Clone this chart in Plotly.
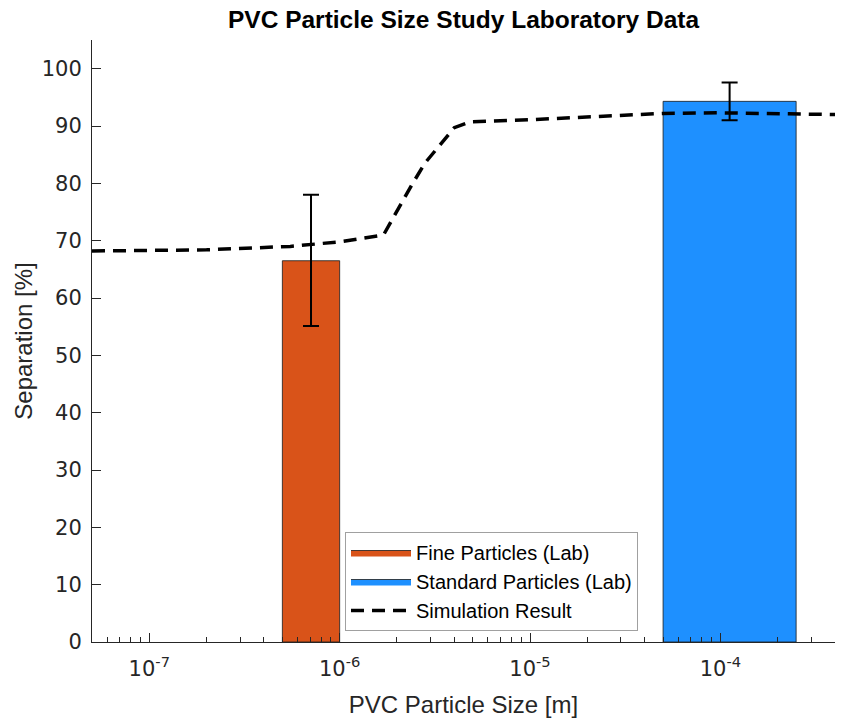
import numpy as np
import plotly.graph_objects as go

# ---------------- data ----------------
bar_names = ["Fine Particles (Lab)", "Standard Particles (Lab)"]
bar_left = [5e-7, 5e-5]
bar_right = [1e-6, 2.5e-4]
bar_height = [66.5, 94.3]
err_plus = [11.5, 3.3]
err_minus = [11.4, 3.3]
bar_colors = ["#D95319", "#1E90FF"]

sim_x = [5e-8, 2e-7, 5.5e-7, 1e-6, 1.7e-6, 1.95e-6, 2.4e-6, 2.8e-6, 3.4e-6,
         4.0e-6, 4.8e-6, 1e-5, 5e-5, 1e-4, 4e-4]
sim_y = [68.2, 68.4, 69.0, 69.8, 71.0, 74.6, 79.8, 83.5, 87.0,
         89.7, 90.7, 91.1, 92.2, 92.3, 92.0]

x_range = [5e-8, 4e-4]
y_range = [0, 105]
major_x = [1e-7, 1e-6, 1e-5, 1e-4]
major_x_labels = ["10<sup>-7</sup>", "10<sup>-6</sup>", "10<sup>-5</sup>", "10<sup>-4</sup>"]
y_ticks = list(range(0, 101, 10))

# ---------------- figure ----------------
fig = go.Figure()

for name, l, r, h, c in zip(bar_names, bar_left, bar_right, bar_height, bar_colors):
    fig.add_trace(go.Scatter(
        x=[l, r, r, l, l], y=[0, 0, h, h, 0],
        mode="lines", fill="toself", fillcolor=c,
        line=dict(color="#1a1a1a", width=0.8),
        name=name, hoverinfo="skip"))

centers = [np.sqrt(l * r) for l, r in zip(bar_left, bar_right)]
fig.add_trace(go.Scatter(
    x=centers, y=bar_height, mode="markers",
    marker=dict(size=1, color="rgba(0,0,0,0)"),
    error_y=dict(type="data", array=err_plus, arrayminus=err_minus,
                 color="black", thickness=2, width=8, symmetric=False),
    showlegend=False, hoverinfo="skip"))

fig.add_trace(go.Scatter(
    x=sim_x, y=sim_y, mode="lines", name="Simulation Result",
    line=dict(color="black", width=3.5, dash="13px,8px")))

minor_x = []
for e in range(-8, -3):
    for m in range(2, 10):
        v = m * 10.0 ** e
        if x_range[0] <= v <= x_range[1]:
            minor_x.append(v)

axis_col = "#262626"
tick_font = dict(family="DejaVu Sans, sans-serif", size=21, color=axis_col)
lab_font = dict(family="Liberation Sans, Arial, Helvetica, sans-serif", size=24, color=axis_col)
fig.update_layout(
    width=845, height=720,
    margin=dict(l=92, r=10, t=40, b=78),
    paper_bgcolor="white", plot_bgcolor="white",
    font=dict(family="Liberation Sans, Arial, Helvetica, sans-serif", size=19, color=axis_col),
    title=dict(text="<b>PVC Particle Size Study Laboratory Data</b>",
               x=0.5, xref="paper", xanchor="center", y=1 - 19 / 720, yref="container", yanchor="middle",
               font=dict(family="Liberation Sans, Arial, sans-serif", size=24.5, color="black")),
    xaxis=dict(type="log", range=[np.log10(x_range[0]), np.log10(x_range[1])],
               tickvals=major_x, ticktext=major_x_labels,
               ticks="inside", ticklen=9, tickwidth=1, tickcolor=axis_col,
               ticklabelstandoff=8, automargin=False,
               minor=dict(tickvals=minor_x, ticks="inside", ticklen=5, tickcolor=axis_col, showgrid=False),
               showline=True, linecolor=axis_col, linewidth=1, mirror=False,
               showgrid=False, zeroline=False,
               title=dict(text="PVC Particle Size [m]", standoff=15, font=lab_font),
               tickfont=tick_font),
    yaxis=dict(range=y_range, tickvals=y_ticks,
               ticks="inside", ticklen=9, tickwidth=1, tickcolor=axis_col,
               ticklabelstandoff=5, automargin=False,
               showline=True, linecolor=axis_col, linewidth=1, mirror=False,
               showgrid=False, zeroline=False,
               title=dict(text="Separation [%]", standoff=2, font=lab_font),
               tickfont=tick_font),
    legend=dict(x=(345 - 92) / 743, y=(642 - 532) / 602, xanchor="left", yanchor="top",
                bgcolor="white", bordercolor="#a0a0a0", borderwidth=1,
                font=dict(family="Liberation Sans, Arial, sans-serif", size=20, color="black"),
                itemwidth=60),
    showlegend=True,
)

fig.write_html("out.html")
